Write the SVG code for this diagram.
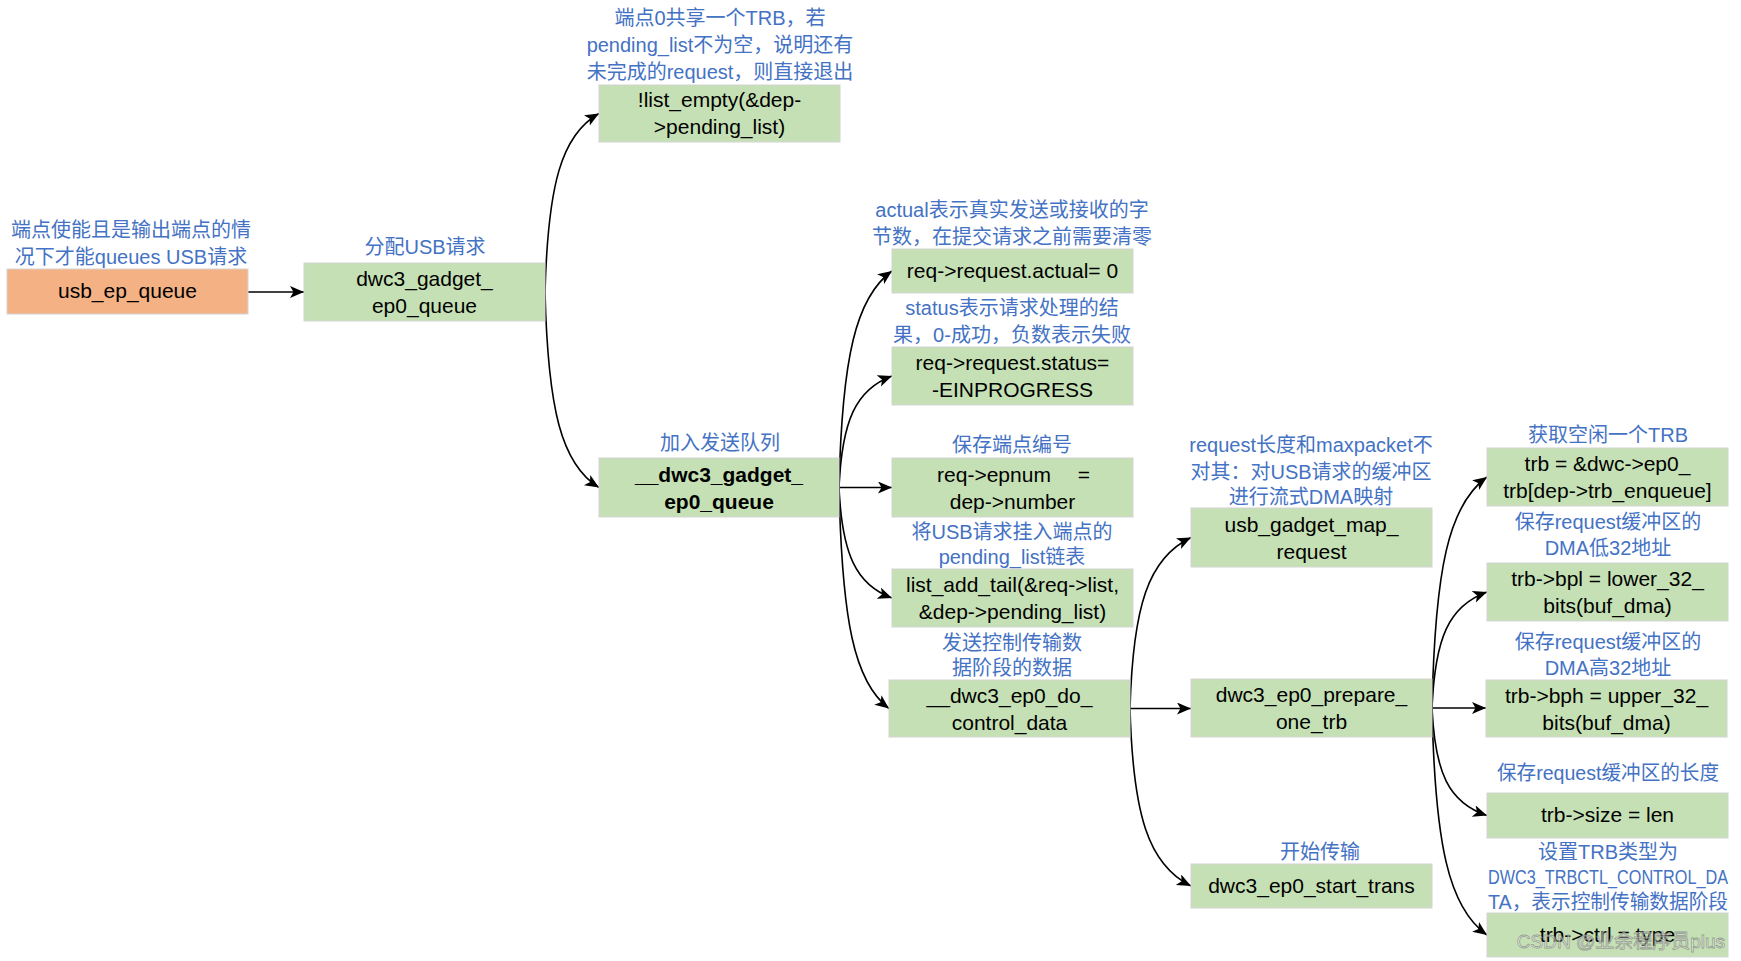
<svg xmlns="http://www.w3.org/2000/svg" width="1741" height="961" viewBox="0 0 1741 961">
<style>
.bx{fill:#C5E0B4;stroke:#D4D4D4;stroke-width:1}
.or{fill:#F4B183;stroke:#D4D4D4;stroke-width:1}
.t{font-family:"Liberation Sans","Noto Sans CJK SC",sans-serif;font-size:21px;fill:#000;text-anchor:middle}
.b{font-weight:bold}
.l{font-family:"Liberation Sans","Noto Sans CJK SC",sans-serif;font-size:20px;fill:#4472C4;text-anchor:middle}
.c{fill:none;stroke:#000;stroke-width:1.6;marker-end:url(#ah)}
.wm{font-family:"Liberation Sans","Noto Sans CJK SC",sans-serif;font-size:19px;fill:#ffffff;fill-opacity:0.55;stroke:#7a7a7a;stroke-opacity:0.7;stroke-width:0.8;text-anchor:middle}
</style>
<defs>
<marker id="ah" markerUnits="userSpaceOnUse" markerWidth="16" markerHeight="14" refX="14" refY="6" orient="auto">
<path d="M0,0 L14,6 L0,12 L3.5,6 z" fill="#000"/>
</marker>
</defs>
<rect width="1741" height="961" fill="#fff"/>

<g id="connectors">
<path class="c" d="M248,292 H304"/>
<path class="c" d="M545,292 C548,184.9 561.2,134.9 599,113.5"/>
<path class="c" d="M545,292 C548,409.3 561.2,464 599,487.5"/>
<path class="c" d="M839,487.5 C842,357.6 855.9,297 892,271"/>
<path class="c" d="M839,487.5 C842,420.6 855.9,389.4 892,376"/>
<path class="c" d="M839,487.5 H892"/>
<path class="c" d="M839,487.5 C842,553.8 855.9,584.7 892,598"/>
<path class="c" d="M839,487.5 C842,620.1 854,682 889,708.5"/>
<path class="c" d="M1130,708.5 C1133,605.9 1148.3,558 1191,537.5"/>
<path class="c" d="M1130,708.5 H1191"/>
<path class="c" d="M1130,708.5 C1133,815 1148.3,864.7 1191,886"/>
<path class="c" d="M1432,708 C1435,569.4 1448.5,504.7 1487,477"/>
<path class="c" d="M1432,708 C1435,638.4 1448.5,605.9 1487,592"/>
<path class="c" d="M1432,708 H1486"/>
<path class="c" d="M1432,708 C1435,772.5 1448.5,802.6 1487,815.5"/>
<path class="c" d="M1432,708 C1435,844.2 1448.5,907.8 1487,935"/>
</g>

<g id="usb_ep_queue">
<text class="l" x="131" y="237">端点使能且是输出端点的情</text>
<text class="l" x="131" y="264">况下才能queues USB请求</text>
<rect class="or" x="7" y="269" width="241" height="45"/>
<text class="t" x="127.5" y="298">usb_ep_queue</text>
</g>

<g id="dwc3_gadget_ep0_queue">
<text class="l" x="425" y="254">分配USB请求</text>
<rect class="bx" x="304" y="263" width="241" height="58"/>
<text class="t" x="424.5" y="286">dwc3_gadget_</text>
<text class="t" x="424.5" y="313">ep0_queue</text>
</g>

<g id="list_empty">
<text class="l" x="720" y="25">端点0共享一个TRB，若</text>
<text class="l" x="720" y="52">pending_list不为空，说明还有</text>
<text class="l" x="720" y="79">未完成的request，则直接退出</text>
<rect class="bx" x="599" y="85" width="241" height="57"/>
<text class="t" x="719.5" y="107">!list_empty(&amp;dep-</text>
<text class="t" x="719.5" y="134">&gt;pending_list)</text>
</g>

<g id="__dwc3_gadget_ep0_queue">
<text class="l" x="720" y="450">加入发送队列</text>
<rect class="bx" x="599" y="458" width="240" height="59"/>
<text class="t b" x="719" y="481.5">__dwc3_gadget_</text>
<text class="t b" x="719" y="508.5">ep0_queue</text>
</g>

<g id="req_actual">
<text class="l" x="1012" y="217">actual表示真实发送或接收的字</text>
<text class="l" x="1012" y="244">节数，在提交请求之前需要清零</text>
<rect class="bx" x="892" y="249" width="241" height="44"/>
<text class="t" x="1012.5" y="278">req-&gt;request.actual= 0</text>
</g>

<g id="req_status">
<text class="l" x="1012" y="315">status表示请求处理的结</text>
<text class="l" x="1012" y="342">果，0-成功，负数表示失败</text>
<rect class="bx" x="892" y="347" width="241" height="58"/>
<text class="t" x="1012.5" y="370">req-&gt;request.status=</text>
<text class="t" x="1012.5" y="397">-EINPROGRESS</text>
</g>

<g id="req_epnum">
<text class="l" x="1012" y="452">保存端点编号</text>
<rect class="bx" x="892" y="458" width="241" height="59"/>
<text class="t" y="481.5"><tspan x="994">req-&gt;epnum</tspan><tspan x="1084">=</tspan></text>
<text class="t" x="1012.5" y="508.5">dep-&gt;number</text>
</g>

<g id="list_add_tail">
<text class="l" x="1012" y="539">将USB请求挂入端点的</text>
<text class="l" x="1012" y="564">pending_list链表</text>
<rect class="bx" x="892" y="569" width="241" height="58"/>
<text class="t" x="1012.5" y="592">list_add_tail(&amp;req-&gt;list,</text>
<text class="t" x="1012.5" y="619">&amp;dep-&gt;pending_list)</text>
</g>

<g id="__dwc3_ep0_do_control_data">
<text class="l" x="1012" y="650">发送控制传输数</text>
<text class="l" x="1012" y="675">据阶段的数据</text>
<rect class="bx" x="889" y="680" width="241" height="57"/>
<text class="t" x="1009.5" y="702.5">__dwc3_ep0_do_</text>
<text class="t" x="1009.5" y="729.5">control_data</text>
</g>

<g id="usb_gadget_map_request">
<text class="l" x="1311" y="452">request长度和maxpacket不</text>
<text class="l" x="1311" y="479">对其：对USB请求的缓冲区</text>
<text class="l" x="1311" y="504">进行流式DMA映射</text>
<rect class="bx" x="1191" y="508" width="241" height="59"/>
<text class="t" x="1311.5" y="531.5">usb_gadget_map_</text>
<text class="t" x="1311.5" y="558.5">request</text>
</g>

<g id="dwc3_ep0_prepare_one_trb">
<rect class="bx" x="1191" y="679" width="241" height="58"/>
<text class="t" x="1311.5" y="702">dwc3_ep0_prepare_</text>
<text class="t" x="1311.5" y="729">one_trb</text>
</g>

<g id="dwc3_ep0_start_trans">
<text class="l" x="1320" y="859">开始传输</text>
<rect class="bx" x="1191" y="864" width="241" height="44"/>
<text class="t" x="1311.5" y="892.5">dwc3_ep0_start_trans</text>
</g>

<g id="trb_enqueue">
<text class="l" x="1608" y="442">获取空闲一个TRB</text>
<rect class="bx" x="1487" y="448" width="241" height="58"/>
<text class="t" x="1607.5" y="471">trb = &amp;dwc-&gt;ep0_</text>
<text class="t" x="1607.5" y="498">trb[dep-&gt;trb_enqueue]</text>
</g>

<g id="trb_bpl">
<text class="l" x="1608" y="529">保存request缓冲区的</text>
<text class="l" x="1608" y="555">DMA低32地址</text>
<rect class="bx" x="1487" y="563" width="241" height="58"/>
<text class="t" x="1607.5" y="586">trb-&gt;bpl = lower_32_</text>
<text class="t" x="1607.5" y="613">bits(buf_dma)</text>
</g>

<g id="trb_bph">
<text class="l" x="1608" y="649">保存request缓冲区的</text>
<text class="l" x="1608" y="675">DMA高32地址</text>
<rect class="bx" x="1486" y="680" width="241" height="57"/>
<text class="t" x="1606.5" y="702.5">trb-&gt;bph = upper_32_</text>
<text class="t" x="1606.5" y="729.5">bits(buf_dma)</text>
</g>

<g id="trb_size">
<text class="l" x="1608" y="780" textLength="222" lengthAdjust="spacingAndGlyphs">保存request缓冲区的长度</text>
<rect class="bx" x="1487" y="793" width="241" height="45"/>
<text class="t" x="1607.5" y="822">trb-&gt;size = len</text>
</g>

<g id="trb_ctrl">
<text class="l" x="1608" y="859">设置TRB类型为</text>
<text class="l" x="1608" y="884" textLength="240" lengthAdjust="spacingAndGlyphs">DWC3_TRBCTL_CONTROL_DA</text>
<text class="l" x="1608" y="909" textLength="240" lengthAdjust="spacingAndGlyphs">TA，表示控制传输数据阶段</text>
<rect class="bx" x="1487" y="913" width="241" height="44"/>
<text class="t" x="1607.5" y="941.5">trb-&gt;ctrl = type</text>
</g>

<text class="wm" x="1621" y="948">CSDN @业余程序员plus</text>
</svg>
